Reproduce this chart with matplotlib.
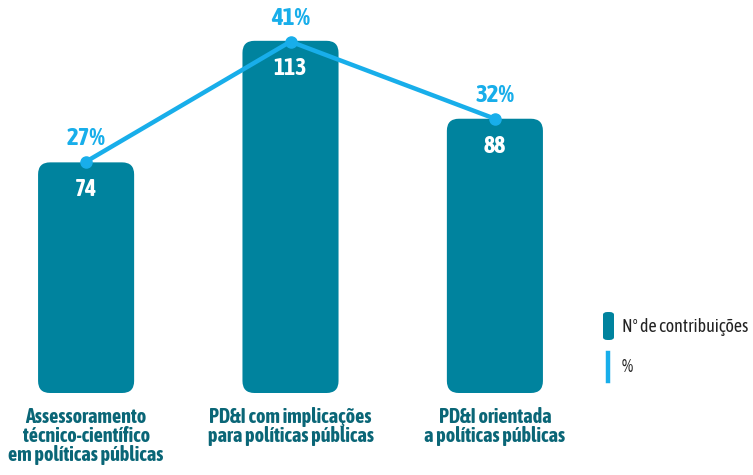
import matplotlib
matplotlib.use('Agg')
import matplotlib.pyplot as plt
from matplotlib.patches import FancyBboxPatch
from matplotlib.lines import Line2D

plt.rcParams['font.family'] = ['Asap Condensed', 'DejaVu Sans']

categorias = ['Assessoramento\ntécnico-científico\nem políticas públicas',
              'PD&I com implicações\npara políticas públicas',
              'PD&I orientada\na políticas públicas']
contribuicoes = [74, 113, 88]
percentual = [27, 41, 32]

cor_barra = '#00839E'
cor_linha = '#18AEEA'
cor_texto = '#0A6677'

W, H = 753, 475
fig = plt.figure(figsize=(W / 100, H / 100), dpi=100)
# axes in pixel geometry
left, right, bottom, top = 35, 546, 82, 456
ax = fig.add_axes([left / W, bottom / H, (right - left) / W, (top - bottom) / H])
ymax = 120
ax.set_xlim(-0.25, 2.25)
ax.set_ylim(0, ymax)

px_x = (right - left) / 2.5      # px per x unit
px_y = (top - bottom) / ymax     # px per y unit
largura = 0.47
raio = 12 / px_x

for i, v in enumerate(contribuicoes):
    b = FancyBboxPatch((i - largura / 2, 0), largura, v,
                       boxstyle='round,pad=0,rounding_size=%f' % raio,
                       mutation_aspect=px_x / px_y,
                       fc=cor_barra, ec='none', zorder=2)
    ax.add_patch(b)
    ax.text(i, v - 8.8, str(v), ha='center', va='center', color='white',
            fontsize=17, fontweight='bold', zorder=5)

# percent on twin scale (same zero, proportional)
total = sum(contribuicoes)
ax2 = ax.twinx()
ax2.set_ylim(0, ymax * 100 / total)
x = list(range(len(percentual)))
ax2.plot(x, percentual, color=cor_linha, lw=3.2, marker='o', ms=8,
         solid_capstyle='round', zorder=4, clip_on=False)
for i, p in enumerate(percentual):
    ax2.text(i, p + 2.7, '%d%%' % p, ha='center', va='center',
             color=cor_linha, fontsize=18, fontweight='bold')

for a in (ax, ax2):
    a.set_axis_off()

for i, c in enumerate(categorias):
    ax.text(i, -4.6, c, ha='center', va='top', color=cor_texto,
            fontsize=14.5, fontweight='bold', linespacing=0.92, clip_on=False)

# legend
fig.add_artist(FancyBboxPatch((603 / W, 1 - 340 / H), 11 / W, 28 / H,
                              boxstyle='round,pad=0,rounding_size=0.006',
                              transform=fig.transFigure, fc=cor_barra, ec='none'))
fig.text(622 / W, 1 - 327 / H, 'Nº de contribuições', ha='left', va='center',
         fontsize=13, color='#222222')
fig.add_artist(Line2D([608 / W, 608 / W], [1 - 353 / H, 1 - 381 / H],
                      transform=fig.transFigure, color=cor_linha, lw=3.2))
fig.text(622 / W, 1 - 367 / H, '%', ha='left', va='center',
         fontsize=13, color='#222222')

plt.savefig('out.png', dpi=100)
